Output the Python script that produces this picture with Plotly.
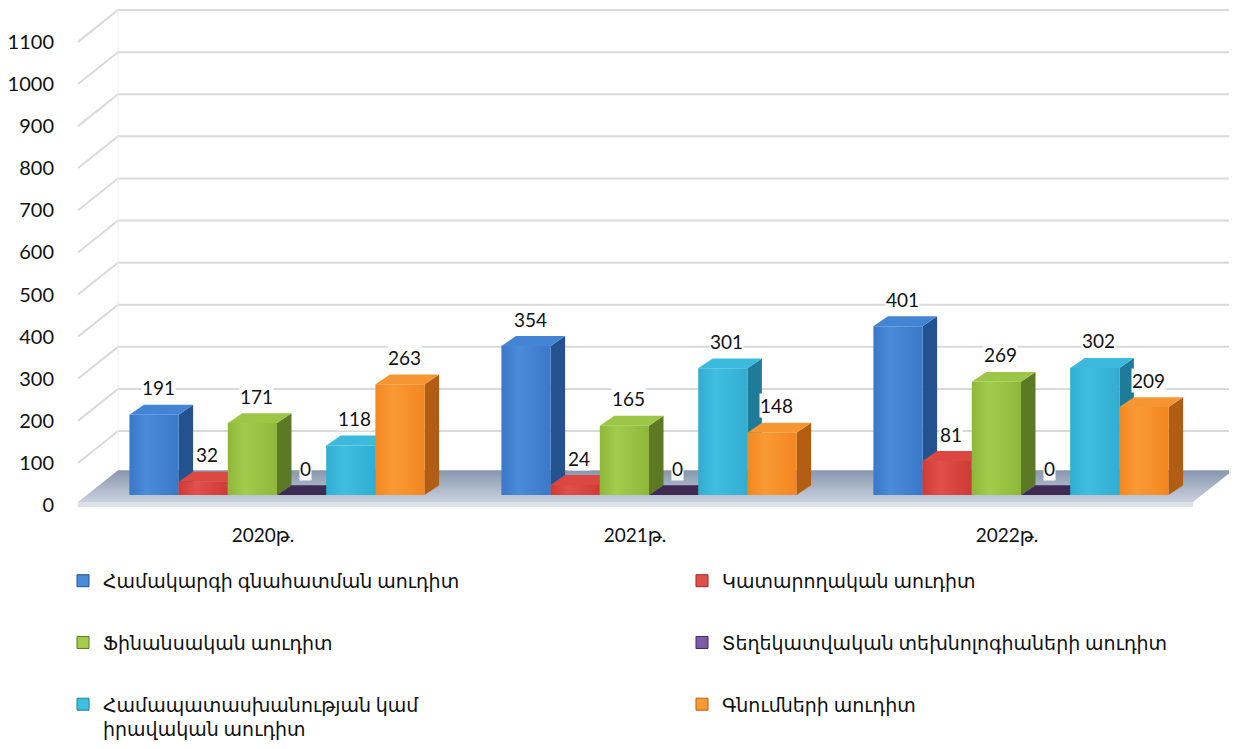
import plotly.graph_objects as go

# ---------------- data ----------------
categories = ["2020թ.", "2021թ.", "2022թ."]
series_names = [
    "Համակարգի գնահատման աուդիտ",
    "Կատարողական աուդիտ",
    "Ֆինանսական աուդիտ",
    "Տեղեկատվական տեխնոլոգիաների աուդիտ",
    "Համապատասխանության կամ<br>իրավական աուդիտ",
    "Գնումների աուդիտ",
]
system_assessment = [191, 354, 401]
performance_audit = [32, 24, 81]
financial_audit = [171, 165, 269]
it_audit = [0, 0, 0]
compliance_audit = [118, 301, 302]
procurement_audit = [263, 148, 209]
y_ticks = [0, 100, 200, 300, 400, 500, 600, 700, 800, 900, 1000, 1100]

series_values = [system_assessment, performance_audit, financial_audit,
                 it_audit, compliance_audit, procurement_audit]

# ---------------- styles (front, side, top) ----------------
styles = [
    dict(front="#3A78C8", light="#4A8BDA", side="#24528F", top="#4384D4"),
    dict(front="#CF3A35", light="#E0504A", side="#982A26", top="#DC4742"),
    dict(front="#8FB83A", light="#A3CB4C", side="#5C7A24", top="#9DC646"),
    dict(front="#6A4C93", light="#7B5BA8", side="#3F2B5C", top="#3E2A55"),
    dict(front="#30ADD0", light="#40BEE0", side="#1E7C98", top="#3BBADD"),
    dict(front="#F3861F", light="#F99A35", side="#B25D12", top="#F59632"),
]
legend_cols = [0, 1, 0, 1, 0, 1]
legend_rows = [0, 0, 1, 1, 2, 2]

FONT = "Lato, 'DejaVu Sans', sans-serif"

# ---------------- geometry (page pixels -> axis units) ----------------
PAGE_W, PAGE_H = 1237, 749
OFF = 8                       # default page body margin
W, H = PAGE_W - OFF, PAGE_H - OFF


def fx(page_px):
    return page_px - OFF


PLOT_BOTTOM = fx(524)
ML, MR, MT = fx(60), 0, 0
MB = H - PLOT_BOTTOM
PLOT_W = W - ML - MR
PLOT_H = PLOT_BOTTOM - MT
SX = 372.0          # pixels per category step
SY = 0.4227         # pixels per value unit
FRONT0 = fx(507)    # pixel row of value 0 on front edge
CAT0 = fx(277)      # pixel column of first category centre

x0 = -(CAT0 - ML) / SX
x1 = x0 + PLOT_W / SX
y_lo = (FRONT0 - PLOT_BOTTOM) / SY
y_hi = (FRONT0 - MT) / SY


def ux(px):
    return px / SX


def uy(px):
    return px / SY


def xpage(page_px):
    return x0 + ux(fx(page_px) - ML)


WALL_FX = xpage(78)
DEPTH_DX = ux(40)
DEPTH_DY = uy(32)
BACK_RX = xpage(1233)
FLOOR_FRX = xpage(1193)

BAR_W = ux(49.2)
BAR_BASE = uy(10)
BD_X = ux(14.5)
BD_Y = uy(10)

fig = go.Figure()

# ---- back wall / side wall grid lines ----
gx, gy = [], []
for v in y_ticks:
    gx += [WALL_FX, WALL_FX + DEPTH_DX, BACK_RX, None]
    gy += [v, v + DEPTH_DY, v + DEPTH_DY, None]
fig.add_trace(go.Scatter(x=gx, y=gy, mode="lines",
                         line=dict(color="#D9D9D9", width=2),
                         hoverinfo="skip", showlegend=False))
fig.add_trace(go.Scatter(
    x=[WALL_FX + DEPTH_DX, WALL_FX + DEPTH_DX, None, BACK_RX, BACK_RX],
    y=[DEPTH_DY, y_ticks[-1] + DEPTH_DY, None, DEPTH_DY, y_ticks[-1] + DEPTH_DY],
    mode="lines", line=dict(color="#EFEFEF", width=1),
    hoverinfo="skip", showlegend=False))

# ---- floor ----
fig.add_trace(go.Scatter(
    x=[WALL_FX, FLOOR_FRX, FLOOR_FRX + DEPTH_DX, WALL_FX + DEPTH_DX, WALL_FX],
    y=[uy(3), uy(3), uy(3) + DEPTH_DY, uy(3) + DEPTH_DY, uy(3)],
    mode="lines", fill="toself", line=dict(width=0),
    fillgradient=dict(type="vertical",
                      colorscale=[[0, "#C9D1DC"], [1, "#8796AE"]]),
    hoverinfo="skip", showlegend=False))
fig.add_trace(go.Scatter(
    x=[WALL_FX, FLOOR_FRX, FLOOR_FRX, WALL_FX, WALL_FX],
    y=[uy(-2), uy(-2), uy(3), uy(3), uy(-2)],
    mode="lines", fill="toself", line=dict(width=0),
    fillcolor="#DCE1E8", hoverinfo="skip", showlegend=False))

# ---- bars (pseudo 3-D) ----
n = len(series_values)
for j, (name, vals, st) in enumerate(zip(series_names, series_values, styles)):
    for i, v in enumerate(vals):
        c = i + (j - (n - 1) / 2) * BAR_W
        l, r = c - BAR_W / 2, c + BAR_W / 2
        b, t = BAR_BASE, BAR_BASE + v
        # side face
        fig.add_trace(go.Scatter(
            x=[r, r + BD_X, r + BD_X, r, r],
            y=[b, b + BD_Y, t + BD_Y, t, b],
            mode="lines", fill="toself", fillcolor=st["side"],
            line=dict(width=0), hoverinfo="skip", showlegend=False,
            legendgroup=name))
        # top face
        fig.add_trace(go.Scatter(
            x=[l, r, r + BD_X, l + BD_X, l],
            y=[t, t, t + BD_Y, t + BD_Y, t],
            mode="lines", fill="toself", fillcolor=st["top"],
            line=dict(width=0), hoverinfo="skip", showlegend=False,
            legendgroup=name))
        # front face
        fig.add_trace(go.Scatter(
            x=[l, r, r, l, l],
            y=[b, b, t, t, b],
            mode="lines", fill="toself",
            fillgradient=dict(type="horizontal",
                              colorscale=[[0, st["front"]], [0.35, st["light"]],
                                          [1, st["front"]]]),
            line=dict(width=0), showlegend=False, legendgroup=name,
            hoveron="fills", name=name.replace("<br>", " "),
            text=f"{categories[i]}: {v}", hoverinfo="text+name"))
        fig.add_annotation(x=c + ux(4), y=t, yshift=27, text=str(v),
                           showarrow=False, bgcolor="white", borderpad=0,
                           font=dict(family=FONT, size=19, color="#111111"))

# ---- legends (two columns) ----
LEG_COL_PX = [63, 682]          # page pixels
LEG_ROW_PX = [564, 626, 688]    # page pixels
legend_layouts = {}
for j, (name, st) in enumerate(zip(series_names, styles)):
    key = "legend" if j == 0 else f"legend{j + 1}"
    fig.add_trace(go.Scatter(
        x=[None], y=[None], mode="markers", name=name, legend=key,
        legendgroup=name,
        marker=dict(symbol="square", size=12, color=st["light"],
                    line=dict(color=st["side"], width=1))))
    legend_layouts[key] = dict(
        x=(fx(LEG_COL_PX[legend_cols[j]]) - ML) / PLOT_W,
        y=(PLOT_BOTTOM - fx(LEG_ROW_PX[legend_rows[j]])) / PLOT_H,
        xanchor="left", yanchor="top", valign="top",
        bgcolor="rgba(0,0,0,0)", itemwidth=30,
        font=dict(family=FONT, size=19, color="#111111"))

fig.update_layout(
    width=W, height=H,
    margin=dict(l=ML, r=MR, t=MT, b=MB, pad=0),
    paper_bgcolor="white", plot_bgcolor="white",
    font=dict(family=FONT, color="#111111"),
    showlegend=True,
    xaxis=dict(range=[x0, x1], tickvals=[i - ux(14) for i in range(len(categories))],
               ticktext=categories, showgrid=False, zeroline=False,
               showline=False, ticks="", tickfont=dict(size=19)),
    yaxis=dict(range=[y_lo, y_hi], tickvals=y_ticks, showgrid=False,
               zeroline=False, showline=False, ticks="",
               ticklabelstandoff=5, tickfont=dict(size=20)),
    **legend_layouts,
)

fig.write_html("out.html")
